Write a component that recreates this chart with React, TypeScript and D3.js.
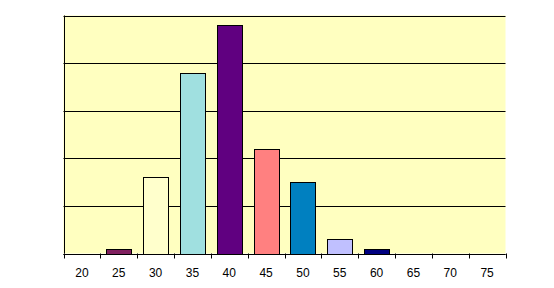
import React from "react";
import * as d3 from "d3";

const categories = ["20", "25", "30", "35", "40", "45", "50", "55", "60", "65", "70", "75"];
const values = [0, 1, 16, 38, 48, 22, 15, 3, 1, 0, 0, 0];
const barColors = ["#9999FF", "#80205F", "#FFFFCC", "#A0E0E0", "#600080", "#FF8080", "#0080C0", "#C0C0FF", "#000080", "#FF00FF", "#FFFF00", "#00FFFF"];
const yTicks = [0, 10, 20, 30, 40, 50];

export default function App() {
  const W = 554, H = 288;
  const left = 63.5, right = 505.5, top = 15.5, bottom = 253.5;
  const x = d3.scaleBand<string>().domain(categories).range([left, right]).padding(0);
  const step = x.step();
  const y = d3.scaleLinear().domain([0, 50]).range([bottom, top]);
  const bw = Math.round(step * 0.68);
  return (
    <svg width={W} height={H} style={{ position: "absolute", left: 0, top: 0, background: "#fff" }}
      fontFamily="'Liberation Sans', Arial, sans-serif">
      <rect x={left} y={top} width={right - left} height={bottom - top} fill="#FFFFC0" />
      {yTicks.map((t) => (
        <line key={t} x1={left} x2={right} y1={Math.round(y(t)) + 0.5} y2={Math.round(y(t)) + 0.5} stroke="#000" strokeWidth={1} />
      ))}
      {categories.map((c, i) => {
        const v = values[i];
        if (v <= 0) return null;
        const cx = (x(c) as number) + step / 2;
        const bx = Math.round(cx - bw / 2) + 0.5;
        const by = Math.round(y(v)) + 0.5;
        const yb = Math.round(y(0)) + 0.5;
        return <rect key={c} x={bx} y={by} width={bw} height={yb - by} fill={barColors[i]} stroke="#000" strokeWidth={1} />;
      })}
      <line x1={Math.round(left) + 0.5} x2={Math.round(left) + 0.5} y1={top} y2={bottom} stroke="#000" />
      <line x1={left} x2={right} y1={Math.round(bottom) + 0.5} y2={Math.round(bottom) + 0.5} stroke="#000" />
      {[...categories.map((c) => x(c) as number), right].map((tx, i) => (
        <line key={i} x1={Math.round(tx) + 0.5} x2={Math.round(tx) + 0.5} y1={bottom} y2={bottom + 5} stroke="#000" />
      ))}
      {categories.map((c) => (
        <text key={c} x={(x(c) as number) + step / 2} y={276.5} textAnchor="middle" fontSize={12} fill="#000">{c}</text>
      ))}
    </svg>
  );
}
